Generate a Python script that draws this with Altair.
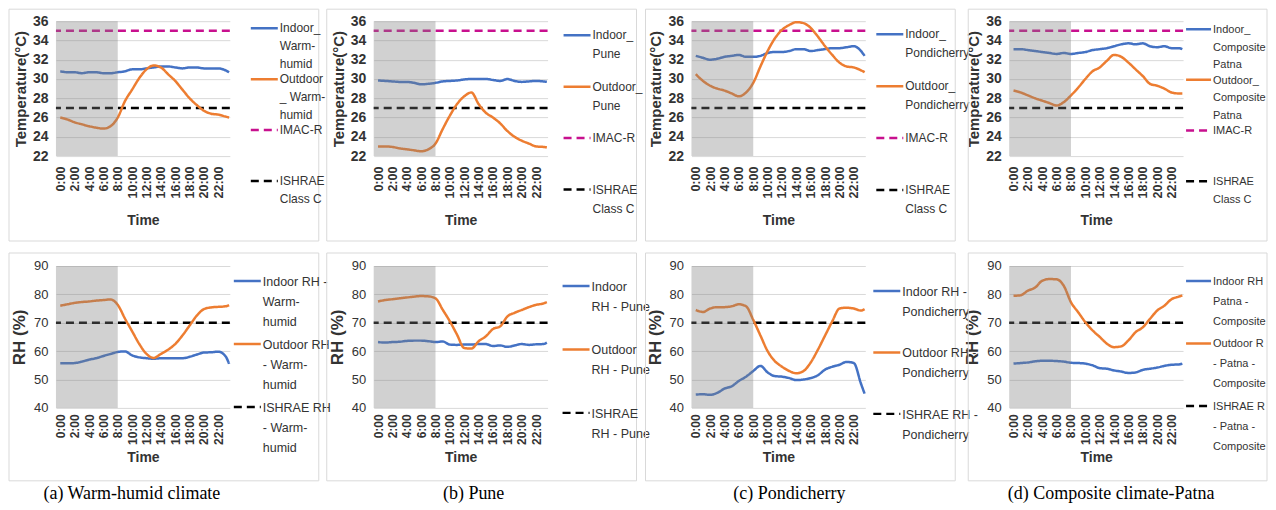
import altair as alt
import pandas as pd

# ---------------- data ----------------
TIMES = list(range(24)) + [23.5]
HOUR_TICKS = list(range(0, 24, 2))
X_DOMAIN = [-0.6, 23.6]
SHADE_START = [-0.6]
SHADE_END = [8]

TEMP_DOMAIN = [22, 36]
TEMP_TICKS = [22, 24, 26, 28, 30, 32, 34, 36]
RH_DOMAIN = [40, 90]
RH_TICKS = [40, 50, 60, 70, 80, 90]

IMAC_R = 35
ISHRAE_T = 27
ISHRAE_RH = 70

WH_IN_T = [30.8, 30.7, 30.7, 30.6, 30.7, 30.7, 30.6, 30.6, 30.7, 30.8, 31.0, 31.0, 31.1,
           31.2, 31.3, 31.3, 31.2, 31.1, 31.2, 31.2, 31.1, 31.1, 31.1, 30.9, 30.7]
WH_OUT_T = [26.0, 25.8, 25.5, 25.3, 25.1, 24.95, 24.85, 25.1, 26.0, 27.7, 28.9, 30.1, 31.0,
            31.4, 31.2, 30.5, 29.8, 28.9, 28.0, 27.3, 26.7, 26.4, 26.3, 26.1, 26.0]
PUNE_IN_T = [29.85, 29.8, 29.75, 29.7, 29.7, 29.6, 29.45, 29.5, 29.6, 29.75, 29.8, 29.85, 29.95,
             30.0, 30.0, 30.0, 29.9, 29.8, 30.0, 29.8, 29.7, 29.75, 29.8, 29.75, 29.7]
PUNE_OUT_T = [23.0, 23.0, 22.95, 22.8, 22.7, 22.6, 22.5, 22.7, 23.3, 24.8, 26.2, 27.4, 28.2,
              28.6, 27.4, 26.5, 26.0, 25.4, 24.6, 24.0, 23.6, 23.3, 23.0, 22.95, 22.9]
PONDI_IN_T = [32.4, 32.2, 32.0, 32.1, 32.3, 32.4, 32.5, 32.3, 32.3, 32.4, 32.7, 32.8, 32.8,
              32.9, 33.1, 33.1, 32.9, 33.0, 33.1, 33.2, 33.2, 33.3, 33.4, 32.9, 32.4]
PONDI_OUT_T = [30.5, 29.8, 29.3, 29.0, 28.8, 28.5, 28.2, 28.6, 29.6, 31.3, 32.9, 34.2, 35.1,
               35.6, 35.9, 35.8, 35.3, 34.4, 33.4, 32.5, 31.7, 31.3, 31.2, 30.9, 30.7]
PATNA_IN_T = [33.1, 33.1, 33.0, 32.9, 32.8, 32.7, 32.6, 32.7, 32.6, 32.7, 32.8, 33.0, 33.1,
              33.2, 33.4, 33.6, 33.7, 33.6, 33.7, 33.4, 33.3, 33.4, 33.2, 33.2, 33.1]
PATNA_OUT_T = [28.8, 28.6, 28.3, 28.0, 27.75, 27.5, 27.25, 27.6, 28.3, 29.1, 30.0, 30.8, 31.2,
               31.9, 32.5, 32.3, 31.7, 31.0, 30.3, 29.5, 29.3, 29.0, 28.6, 28.5, 28.5]

WH_IN_RH = [55.7, 55.7, 55.8, 56.3, 57.0, 57.5, 58.3, 59.0, 59.7, 59.9, 58.5, 57.8, 57.5,
            57.3, 57.5, 57.5, 57.5, 57.5, 58.0, 58.8, 59.5, 59.6, 59.8, 58.2, 55.5]
WH_OUT_RH = [76.0, 76.5, 77.0, 77.3, 77.5, 77.8, 78.0, 78.2, 76.3, 71.5, 67.0, 62.5, 59.0,
             57.6, 59.0, 60.5, 62.5, 65.5, 69.0, 72.5, 74.8, 75.4, 75.6, 75.8, 76.2]
PUNE_IN_RH = [63.2, 63.0, 63.2, 63.3, 63.6, 63.7, 63.7, 63.5, 63.2, 63.4, 62.3, 62.2, 62.3,
              62.3, 62.5, 62.5, 61.8, 62.0, 61.5, 62.0, 62.5, 62.2, 62.4, 62.5, 63.0]
PUNE_OUT_RH = [77.5, 78.0, 78.3, 78.6, 78.9, 79.2, 79.4, 79.3, 78.6, 74.6, 70.5, 65.8, 61.1,
               60.9, 63.5, 65.2, 67.8, 68.7, 72.2, 73.5, 74.5, 75.5, 76.3, 76.8, 77.3]
PONDI_IN_RH = [44.7, 44.8, 44.6, 45.3, 46.8, 47.6, 49.5, 51.0, 53.0, 54.8, 52.5, 51.2, 51.0,
               50.5, 49.8, 50.0, 50.5, 51.5, 53.5, 54.5, 55.2, 56.2, 55.8, 48.5, 45.0]
PONDI_OUT_RH = [74.5, 73.8, 75.0, 75.5, 75.5, 75.8, 76.5, 75.8, 71.0, 65.5, 60.0, 56.5, 54.5,
                53.0, 52.2, 53.0, 56.0, 60.5, 65.5, 70.5, 75.0, 75.3, 75.0, 74.3, 74.8]
PATNA_IN_RH = [55.6, 55.8, 56.0, 56.4, 56.6, 56.6, 56.5, 56.3, 55.9, 55.8, 55.6, 55.0, 54.0,
               53.8, 53.2, 52.8, 52.3, 52.5, 53.4, 53.8, 54.2, 54.8, 55.2, 55.3, 55.6]
PATNA_OUT_RH = [79.5, 79.7, 81.3, 82.4, 84.8, 85.4, 85.3, 83.0, 77.2, 73.7, 70.2, 67.3, 65.0,
                62.6, 61.4, 61.7, 63.8, 66.7, 68.4, 71.4, 74.3, 76.0, 78.3, 79.2, 79.6]

TOP_SERIES = [(WH_IN_T, WH_OUT_T), (PUNE_IN_T, PUNE_OUT_T),
              (PONDI_IN_T, PONDI_OUT_T), (PATNA_IN_T, PATNA_OUT_T)]
BOT_SERIES = [(WH_IN_RH, WH_OUT_RH), (PUNE_IN_RH, PUNE_OUT_RH),
              (PONDI_IN_RH, PONDI_OUT_RH), (PATNA_IN_RH, PATNA_OUT_RH)]

TOP_NAMES = [
    ["Indoor_|Warm-|humid", "Outdoor|_ Warm-|humid", "IMAC-R", "ISHRAE|Class C"],
    ["Indoor_|Pune", "Outdoor_|Pune", "IMAC-R", "ISHRAE|Class C"],
    ["Indoor_|Pondicherry", "Outdoor_|Pondicherry", "IMAC-R", "ISHRAE|Class C"],
    ["Indoor_|Composite-|Patna", "Outdoor_|Composite-|Patna", "IMAC-R", "ISHRAE|Class C"],
]
BOT_NAMES = [
    ["Indoor RH -|Warm-|humid", "Outdoor RH|- Warm-|humid", "ISHRAE RH|- Warm-|humid"],
    ["Indoor|RH - Pune", "Outdoor|RH - Pune", "ISHRAE|RH - Pune"],
    ["Indoor RH -|Pondicherry", "Outdoor RH -|Pondicherry", "ISHRAE RH -|Pondicherry"],
    ["Indoor RH -|Patna -|Composite", "Outdoor RH|- Patna -|Composite", "ISHRAE RH|- Patna -|Composite"],
]
CAPTIONS = ["(a) Warm-humid climate", "(b) Pune", "(c) Pondicherry", "(d) Composite climate-Patna"]

# ---------------- style ----------------
NARROW = "Liberation Sans Narrow, Liberation Sans, Arial, sans-serif"
SANS = "Liberation Sans, Arial, sans-serif"
SERIF = "Liberation Serif, Times New Roman, serif"
BLUE, ORANGE, MAGENTA, BLACK = "#4472C4", "#ED7D31", "#C8108E", "#000000"
SOLID, DASH = [1, 0], [8, 5]
TEXT = "#333333"

W = 174
TOP_H = 135
BOT_H = 142

# legend layout: x of symbol start, y of first symbol, entry period, font size, line height,
# text width limit (0 = none), symbol length
TOP_LEG = [(195, 7, 51, 12, 18, 0, 27), (190, 14, 51.5, 12, 19, 0, 27), (185, 13, 52, 12, 19, 0, 27),
           (177, 8, 50.7, 11, 17.5, 55, 25)]
BOT_LEG = [(178, 15, 63, 12.5, 20, 0, 27), (189, 20, 63.5, 12.5, 20, 0, 27), (182, 25, 61.5, 12.5, 20, 0, 27),
           (177, 15, 62.5, 11, 20, 55, 25)]
CAP_DX = [-11, 13, 11, 15]
FRAME_X = [(-47, 263), (-47, 263), (-46, 264), (-41, 258)]
ONE = pd.DataFrame({"k": [0]})


def legend_layers(names, colors, dashes, leg):
    lx, y0, period, fs, lh, lim, slen = leg
    layers = []
    for i, (name, col, dsh) in enumerate(zip(names, colors, dashes)):
        sy = y0 + i * period
        layers.append(alt.Chart(ONE).mark_rule(color=col, strokeDash=dsh, strokeWidth=2.5).encode(
            x=alt.value(lx), x2=alt.value(lx + slen), y=alt.value(sy)))
        tkw = dict(text=name.split("|"), align="left", baseline="top", lineHeight=lh,
                   font=NARROW, fontSize=fs, color=TEXT)
        if lim:
            tkw.update(limit=lim, ellipsis="\u200b")
        layers.append(alt.Chart(ONE).mark_text(**tkw).encode(
            x=alt.value(lx + slen + 2), y=alt.value(sy - round(fs * 0.43))))
    return layers


def make_xaxis(label_size, label_pad, title_pad):
    return alt.Axis(values=HOUR_TICKS, tickCount=30, labelExpr="datum.value + ':00'", labelAngle=270,
                    labelOverlap=False, labelFont=SANS, labelFontSize=label_size,
                    labelFontWeight="bold", labelColor=TEXT, labelPadding=label_pad,
                    title="Time", titleFont=NARROW, titleFontSize=14, titleFontWeight="bold",
                    titleColor=TEXT, titlePadding=title_pad, domain=False, ticks=False, grid=False)


def panel(indoor, outdoor, names, limits, limit_colors, ydom, yaxis, xaxis, w, h, leg,
          fx, fy, caption=None, cap_dx=0):
    lines = pd.DataFrame({
        "time": TIMES + TIMES,
        "value": indoor + outdoor,
        "series": [names[0]] * len(TIMES) + [names[1]] * len(TIMES),
    })
    thr = pd.DataFrame({"series": names[2:], "value": limits})
    colors = [BLUE, ORANGE] + limit_colors
    dashes = [SOLID, SOLID] + [DASH] * len(limits)
    color = alt.Color("series:N", scale=alt.Scale(domain=names, range=colors), legend=None)
    dash = alt.StrokeDash("series:N", scale=alt.Scale(domain=names, range=dashes), legend=None)
    xenc = alt.X("time:Q", scale=alt.Scale(domain=X_DOMAIN, nice=False, zero=False), axis=xaxis)
    yenc = alt.Y("value:Q", scale=alt.Scale(domain=ydom, nice=False, zero=False), axis=yaxis)

    frame = alt.Chart(ONE).mark_rect(
        filled=False, stroke="#d9d9d9", strokeWidth=1).encode(
        x=alt.value(fx[0]), x2=alt.value(fx[1]), y=alt.value(fy[0]), y2=alt.value(fy[1]))
    rules = alt.Chart(thr).mark_rule(strokeWidth=2.5).encode(y=yenc, color=color, strokeDash=dash)
    line = alt.Chart(lines).mark_line(strokeWidth=2.5, interpolate="monotone").encode(
        x=xenc, y=yenc, color=color, strokeDash=dash)
    shade = alt.Chart(pd.DataFrame({"start": SHADE_START, "end": SHADE_END})).mark_rect(
        color="#808080", opacity=0.36).encode(
        x="start:Q", x2="end:Q", y=alt.datum(ydom[0]), y2=alt.datum(ydom[1]))
    props = dict(width=w, height=h)
    if caption:
        props["title"] = alt.TitleParams(caption, orient="bottom", font=SERIF, fontSize=18,
                                         fontWeight="normal", color="#000000", offset=4,
                                         frame="group", anchor="middle", dx=cap_dx)
    layers = [frame, rules, line, shade] + legend_layers(names, colors, dashes, leg)
    return alt.layer(*layers).properties(**props)


top_y = alt.Axis(values=TEMP_TICKS, tickCount=30, format="d", title="Temperature(°C)", titleFont=SANS,
                 titleFontSize=15, titleFontWeight="bold", titleColor=TEXT, titlePadding=4,
                 labelFont=NARROW, labelFontSize=14, labelFontWeight="bold", labelColor=TEXT,
                 labelPadding=8, domain=False, ticks=False, grid=True, gridColor="#d9d9d9")
bot_y = alt.Axis(values=RH_TICKS, tickCount=30, format="d", title="RH (%)", titleFont=SANS,
                 titleFontSize=17, titleFontWeight="bold", titleColor=TEXT, titlePadding=5,
                 labelFont=NARROW, labelFontSize=13, labelColor=TEXT,
                 labelPadding=8, domain=False, ticks=False, grid=True, gridColor="#d9d9d9")
top_x = make_xaxis(12.5, 10, 16)
bot_x = make_xaxis(12, 6, 6)

charts = []
for i in range(4):
    ind, outd = TOP_SERIES[i]
    charts.append(panel(ind, outd, TOP_NAMES[i], [IMAC_R, ISHRAE_T], [MAGENTA, BLACK],
                        TEMP_DOMAIN, top_y, top_x, W, TOP_H, TOP_LEG[i], FRAME_X[i], (-12, 220)))
for i in range(4):
    ind, outd = BOT_SERIES[i]
    charts.append(panel(ind, outd, BOT_NAMES[i], [ISHRAE_RH], [BLACK],
                        RH_DOMAIN, bot_y, bot_x, W, BOT_H, BOT_LEG[i], FRAME_X[i], (-13, 215),
                        caption=CAPTIONS[i], cap_dx=CAP_DX[i]))

chart = alt.concat(*charts, columns=4, spacing={"row": 110, "column": 144},
                   bounds="flush", align="each").resolve_scale(
    color="independent", strokeDash="independent", x="independent", y="independent"
).configure_view(stroke=None).properties(padding=0, background="white")

chart.save("out.html", embed_options={"renderer": "svg", "actions": False})
